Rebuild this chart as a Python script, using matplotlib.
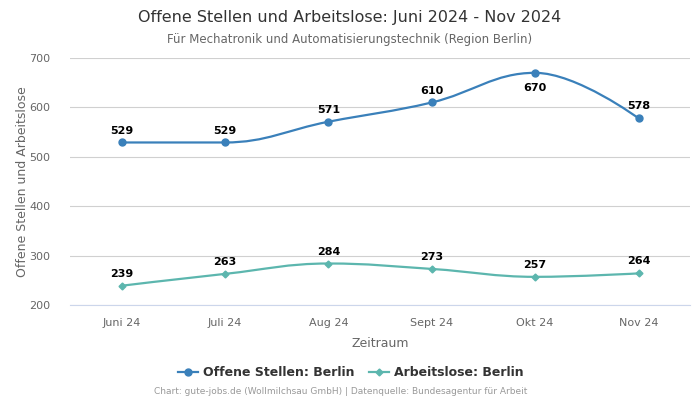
import matplotlib
matplotlib.use("Agg")
import matplotlib.pyplot as plt
from matplotlib.path import Path
from matplotlib.patches import PathPatch
from matplotlib.lines import Line2D

months = ["Juni 24", "Juli 24", "Aug 24", "Sept 24", "Okt 24", "Nov 24"]
offene_stellen = [529, 529, 571, 610, 670, 578]
arbeitslose = [239, 263, 284, 273, 257, 264]

BLUE = "#3a80ba"
TEAL = "#5cb6ae"


def spline_path(xs, ys, smoothing=1.5):
    # Highcharts-style spline: bezier control points per point
    denom = smoothing + 1
    n = len(xs)
    ctrl = []
    for i in range(n):
        x, y = xs[i], ys[i]
        if 0 < i < n - 1:
            lx, ly = xs[i - 1], ys[i - 1]
            nx, ny = xs[i + 1], ys[i + 1]
            lcx = (smoothing * x + lx) / denom
            lcy = (smoothing * y + ly) / denom
            rcx = (smoothing * x + nx) / denom
            rcy = (smoothing * y + ny) / denom
            if rcx != lcx:
                corr = (rcy - lcy) * (rcx - x) / (rcx - lcx) + y - rcy
                lcy += corr
                rcy += corr
            if lcy > max(ly, y):
                lcy = max(ly, y)
                rcy = 2 * y - lcy
            elif lcy < min(ly, y):
                lcy = min(ly, y)
                rcy = 2 * y - lcy
            if rcy > max(ny, y):
                rcy = max(ny, y)
                lcy = 2 * y - rcy
            elif rcy < min(ny, y):
                rcy = min(ny, y)
                lcy = 2 * y - rcy
            ctrl.append(((lcx, lcy), (rcx, rcy)))
        else:
            ctrl.append(((x, y), (x, y)))
    verts = [(xs[0], ys[0])]
    codes = [Path.MOVETO]
    for i in range(1, n):
        verts += [ctrl[i - 1][1], ctrl[i][0], (xs[i], ys[i])]
        codes += [Path.CURVE4] * 3
    return Path(verts, codes)


fig = plt.figure(figsize=(7, 4), dpi=100)
ax = fig.add_axes([0.1, 0.2375, 0.886, 0.6175])

x = list(range(len(months)))
for vals, color, marker, ms in [(offene_stellen, BLUE, "o", 5),
                                (arbeitslose, TEAL, "D", 3.5)]:
    ax.add_patch(PathPatch(spline_path(x, vals), facecolor="none",
                           edgecolor=color, lw=1.6, zorder=3))
    ax.plot(x, vals, ls="", marker=marker, color=color, ms=ms, zorder=4)

top = max(offene_stellen)
for i, v in enumerate(offene_stellen):
    if v == top:
        ax.annotate(str(v), (i, v), xytext=(0, -7), textcoords="offset points",
                    ha="center", va="top", fontsize=8, fontweight="bold")
    else:
        ax.annotate(str(v), (i, v), xytext=(0, 5), textcoords="offset points",
                    ha="center", va="bottom", fontsize=8, fontweight="bold")
for i, v in enumerate(arbeitslose):
    ax.annotate(str(v), (i, v), xytext=(0, 5), textcoords="offset points",
                ha="center", va="bottom", fontsize=8, fontweight="bold")

ax.set_xlim(-0.5, len(months) - 0.5)
ax.set_ylim(200, 700)
ax.set_yticks(range(200, 701, 100))
ax.set_xticks(x)
ax.set_xticklabels(months)
ax.tick_params(axis="both", length=0, labelsize=8, colors="#666666")
ax.tick_params(axis="x", pad=9)
ax.tick_params(axis="y", pad=14)
ax.grid(axis="y", color="#d0d0d0", lw=0.8)
ax.set_axisbelow(True)
for s in ["top", "right", "left"]:
    ax.spines[s].set_visible(False)
ax.spines["bottom"].set_color("#ccd6eb")
ax.spines["bottom"].set_linewidth(0.8)

ax.set_xlabel("Zeitraum", fontsize=9, color="#666666", labelpad=7)
ax.set_ylabel("Offene Stellen und Arbeitslose", fontsize=9, color="#666666", labelpad=0)

fig.text(0.5, 0.957, "Offene Stellen und Arbeitslose: Juni 2024 - Nov 2024",
         ha="center", va="center", fontsize=11.5, color="#333333")
fig.text(0.5, 0.902, "Für Mechatronik und Automatisierungstechnik (Region Berlin)",
         ha="center", va="center", fontsize=8.5, color="#666666")

handles = [Line2D([], [], color=BLUE, marker="o", ms=5, lw=1.6),
           Line2D([], [], color=TEAL, marker="D", ms=3.5, lw=1.6)]
leg = fig.legend(handles, ["Offene Stellen: Berlin", "Arbeitslose: Berlin"],
                 loc="center", bbox_to_anchor=(0.501, 0.068), ncol=2, frameon=False,
                 prop={"size": 9, "weight": "bold"}, handlelength=1.6,
                 columnspacing=1.2, handletextpad=0.4)
for t in leg.get_texts():
    t.set_color("#333333")

fig.text(0.486, 0.02, "Chart: gute-jobs.de (Wollmilchsau GmbH) | Datenquelle: Bundesagentur für Arbeit",
         ha="center", va="center", fontsize=6.5, color="#999999")

fig.savefig("out.png", dpi=100)
